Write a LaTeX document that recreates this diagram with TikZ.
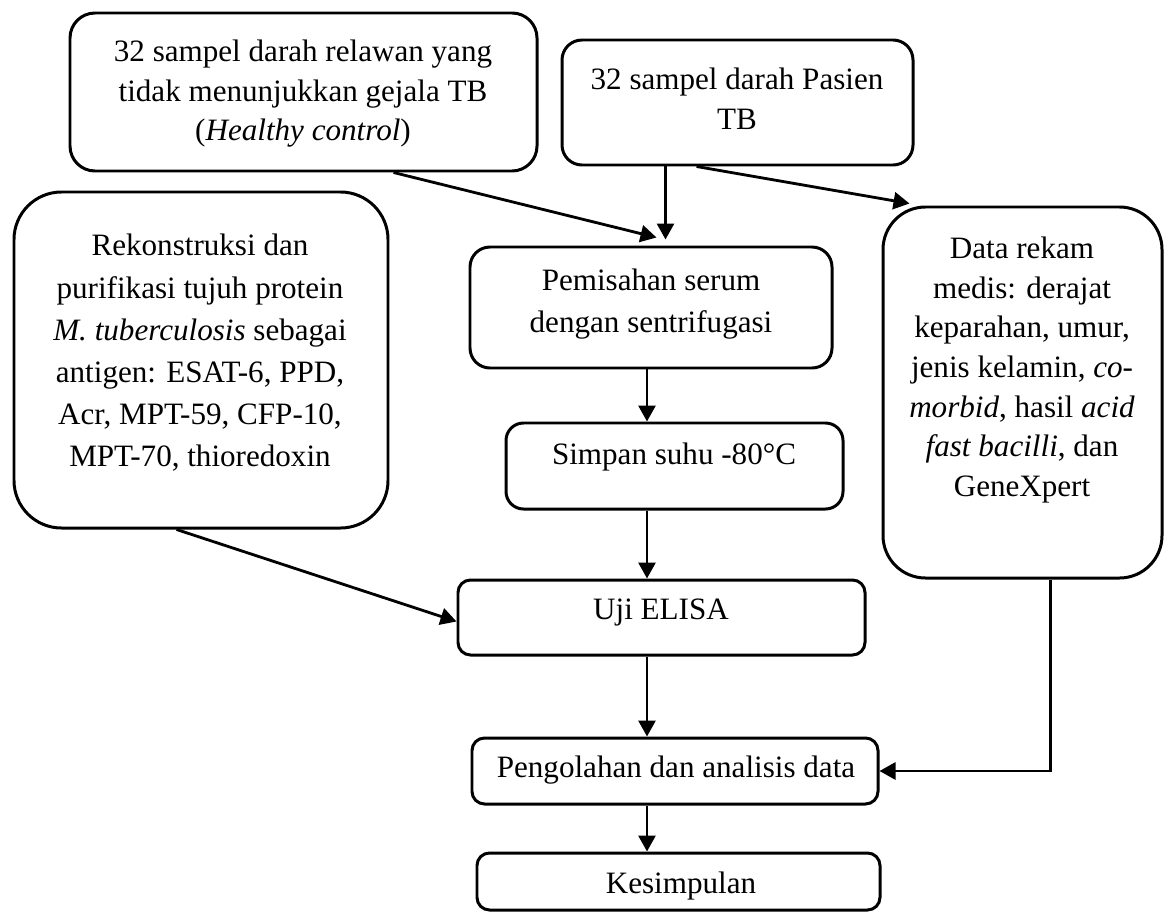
\documentclass[tikz,border=0pt]{standalone}
\usepackage{fontspec}
\setmainfont{Liberation Serif}
\usetikzlibrary{arrows.meta,calc,fit}
\begin{document}
\begin{tikzpicture}[x=0.02cm,y=-0.02cm,
  box/.style={draw,line width=1.7pt,inner sep=0pt},
  txt/.style={align=center,font=\fontsize{17.7}{22.5}\selectfont,inner sep=0pt},
  arr/.style={line width=1.6pt,-{Triangle[length=3.2mm,width=3.4mm]}},
  ]
\useasboundingbox (0,0) rectangle (1166,916);
% boxes
\node[box,rounded corners=0.5cm,fit={(70,13) (537,171)}] (A) {};
\node[box,rounded corners=0.4cm,fit={(562,40) (913,165)}] (B) {};
\node[box,rounded corners=0.95cm,fit={(14,192) (388,528)}] (C) {};
\node[box,rounded corners=0.4cm,fit={(470,247) (832,368)}] (D) {};
\node[box,rounded corners=0.35cm,fit={(506,423) (843,509)}] (E) {};
\node[box,rounded corners=0.25cm,fit={(458,580) (865,655)}] (F) {};
\node[box,rounded corners=0.25cm,fit={(472,738) (878,804)}] (G) {};
\node[box,rounded corners=0.25cm,fit={(477,853) (880,910)}] (H) {};
\node[box,rounded corners=0.85cm,fit={(883,207) (1162,578)}] (I) {};
% texts
\node[txt] (tA) at (303,94) {32 sampel darah relawan yang\\tidak menunjukkan gejala TB\\(\textit{Healthy control})};
\node[txt] (tB) at (737,99) {32 sampel darah Pasien\\TB};
\node[txt,font=\fontsize{17.7}{24}\selectfont] (tC) at (200,353) {Rekonstruksi dan\\purifikasi tujuh protein\\\textit{M. tuberculosis} sebagai\\antigen: ESAT-6, PPD,\\Acr, MPT-59, CFP-10,\\MPT-70, thioredoxin};
\node[txt,font=\fontsize{17.7}{24}\selectfont] (tD) at (651,304) {Pemisahan serum\\dengan sentrifugasi};
\node[txt] (tE) at (674,457) {Simpan suhu -80°C};
\node[txt] (tF) at (661,613) {Uji ELISA};
\node[txt] (tG) at (676,770) {Pengolahan dan analisis data};
\node[txt] (tH) at (681,886) {Kesimpulan};
\node[txt] (tI) at (1022,370) {Data rekam\\medis: derajat\\keparahan, umur,\\jenis kelamin, \textit{co-}\\\textit{morbid}, hasil \textit{acid}\\\textit{fast bacilli}, dan\\GeneXpert};
% connectors
\coordinate (col) at (647,0);
\draw[arr] ($(A.south west)+(325,0)$) -- ($(D.north west)+(188,-8)$);
\draw[arr] ($(B.south west)+(105,0)$) coordinate (b1) -- ($(b1 |- D.north)+(0,-6)$);
\draw[arr] ($(B.south west)+(136,0)$) -- ($(I.north west)+(28,-2)$);
\draw[arr] ($(C.south west)+(164,0)$) -- ($(F.west)+(0,4)$);
\draw[arr] (D.south -| col) -- (E.north -| col);
\draw[arr] (E.south -| col) -- (F.north -| col);
\draw[arr] (F.south -| col) -- (G.north -| col);
\draw[arr] (G.south -| col) -- (H.north -| col);
\draw[arr] ($(I.south west)+(169,0)$) coordinate (i1) -- (i1 |- G.east) -- (G.east);
\end{tikzpicture}
\end{document}
